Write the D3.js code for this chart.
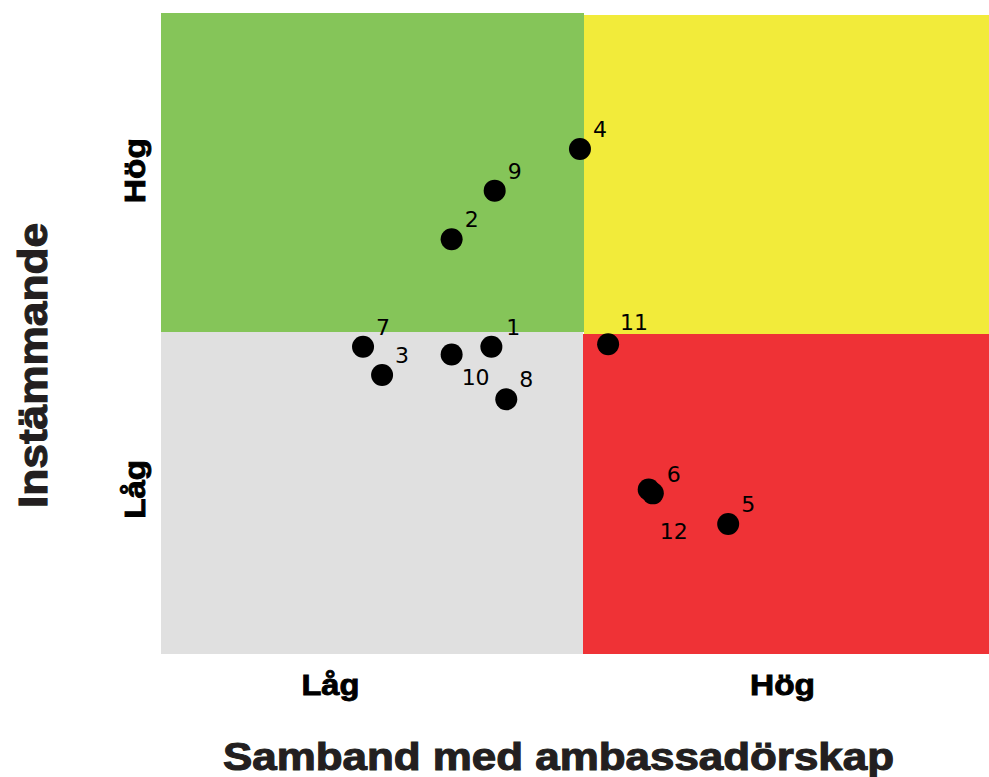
<!DOCTYPE html>
<html>
<head>
<meta charset="utf-8">
<script src="https://cdn.jsdelivr.net/npm/d3@7"></script>
<style>
  html, body { margin: 0; padding: 0; background: #fff; }
  svg { display: block; }
</style>
</head>
<body>
<svg id="chart" width="989" height="777"></svg>
<script>
// ---- Data ----
const pointIds = ["1","2","3","4","5","6","7","8","9","10","11","12"];
const pointX   = [39.9, 35.1, 26.7, 50.6, 68.5, 58.9, 24.4, 41.7, 40.3, 35.1, 54.0, 59.4];
const pointY   = [48.0, 64.8, 43.6, 78.9, 20.3, 25.7, 48.0, 39.8, 72.4, 46.8, 48.4, 25.1];

// quadrant bounds in data units: [x0, x1, y0, y1]
const quadrantNames  = ["green", "yellow", "gray", "red"];
const quadrantBounds = [
  [0, 51.1, 50.27, 100.16],
  [51.1, 100, 49.95, 99.84],
  [0, 50.92, 0, 50.27],
  [50.92, 100, 0, 49.95]
];

const xTickValues = [20.4, 75.0];
const xTickLabels = ["Låg", "Hög"];
const yTickValues = [25.8, 75.6];
const yTickLabels = ["Låg", "Hög"];
const xTitle = "Samband med ambassadörskap";
const yTitle = "Instämmande";

// ---- Styles ----
const quadrantColors = { green: "#85c559", yellow: "#f2eb3a", gray: "#e0e0e0", red: "#ef3236" };
const labelOffsets = { "1": [15, -12], "6": [18, -8], "10": [10, 31], "11": [12, -14], "12": [7, 46] };
const defaultOffset = [13, -12];

const svg = d3.select("#chart");
const x = d3.scaleLinear().domain([0, 100]).range([161, 989]);
const y = d3.scaleLinear().domain([0, 100]).range([654, 14]);

// Quadrants
svg.append("g").attr("shape-rendering", "crispEdges").selectAll("rect")
  .data(quadrantBounds.map((b, i) => ({ name: quadrantNames[i], b })))
  .join("rect")
  .attr("x", d => x(d.b[0]))
  .attr("width", d => x(d.b[1]) - x(d.b[0]))
  .attr("y", d => y(d.b[3]))
  .attr("height", d => y(d.b[2]) - y(d.b[3]))
  .attr("fill", d => quadrantColors[d.name]);

const boldFont = "'Liberation Sans', Arial, sans-serif";

// X axis (tick labels only)
const xAxis = d3.axisBottom(x).tickValues(xTickValues)
  .tickFormat((d, i) => xTickLabels[i]).tickSize(0).tickPadding(0);
const gx = svg.append("g").attr("transform", "translate(0,654)").call(xAxis);
gx.select(".domain").remove();
gx.selectAll(".tick text")
  .attr("dy", null)
  .attr("y", 41)
  .attr("fill", "#000")
  .attr("stroke", "#000")
  .attr("stroke-width", 0.9)
  .style("font-family", boldFont)
  .style("font-weight", "bold")
  .style("font-size", "30px")
  .attr("textLength", (d, i) => i === 0 ? 58 : 65)
  .attr("lengthAdjust", "spacingAndGlyphs");

// Y axis (tick labels only), rotated
const yAxis = d3.axisLeft(y).tickValues(yTickValues)
  .tickFormat((d, i) => yTickLabels[i]).tickSize(0).tickPadding(0);
const gy = svg.append("g").attr("transform", "translate(161,0)").call(yAxis);
gy.select(".domain").remove();
gy.selectAll(".tick text")
  .attr("x", null).attr("dy", null)
  .attr("text-anchor", "middle")
  .attr("transform", "translate(-16,0) rotate(-90)")
  .attr("fill", "#000")
  .attr("stroke", "#000")
  .attr("stroke-width", 0.9)
  .style("font-family", boldFont)
  .style("font-weight", "bold")
  .style("font-size", "30px")
  .attr("textLength", (d, i) => i === 0 ? 59 : 65)
  .attr("lengthAdjust", "spacingAndGlyphs");

// Titles
svg.append("text")
  .attr("x", 558.5).attr("y", 770)
  .attr("text-anchor", "middle")
  .attr("fill", "#231f20")
  .attr("stroke", "#231f20")
  .attr("stroke-width", 1.1)
  .style("font-family", boldFont)
  .style("font-weight", "bold")
  .style("font-size", "38px")
  .attr("textLength", 671)
  .attr("lengthAdjust", "spacingAndGlyphs")
  .text(xTitle);

svg.append("text")
  .attr("transform", "translate(47,365.5) rotate(-90)")
  .attr("text-anchor", "middle")
  .attr("fill", "#231f20")
  .attr("stroke", "#231f20")
  .attr("stroke-width", 1.1)
  .style("font-family", boldFont)
  .style("font-weight", "bold")
  .style("font-size", "40px")
  .attr("textLength", 285)
  .attr("lengthAdjust", "spacingAndGlyphs")
  .text(yTitle);

// Points
const pts = pointIds.map((id, i) => ({ id, vx: pointX[i], vy: pointY[i] }));
svg.append("g").selectAll("circle")
  .data(pts).join("circle")
  .attr("cx", d => x(d.vx))
  .attr("cy", d => y(d.vy))
  .attr("r", 11)
  .attr("fill", "#000");

svg.append("g").selectAll("text")
  .data(pts).join("text")
  .attr("x", d => x(d.vx) + (labelOffsets[d.id] || defaultOffset)[0])
  .attr("y", d => y(d.vy) + (labelOffsets[d.id] || defaultOffset)[1])
  .attr("fill", "#000")
  .style("font-family", "'DejaVu Sans', sans-serif")
  .style("font-size", "22px")
  .text(d => d.id);
</script>
</body>
</html>
